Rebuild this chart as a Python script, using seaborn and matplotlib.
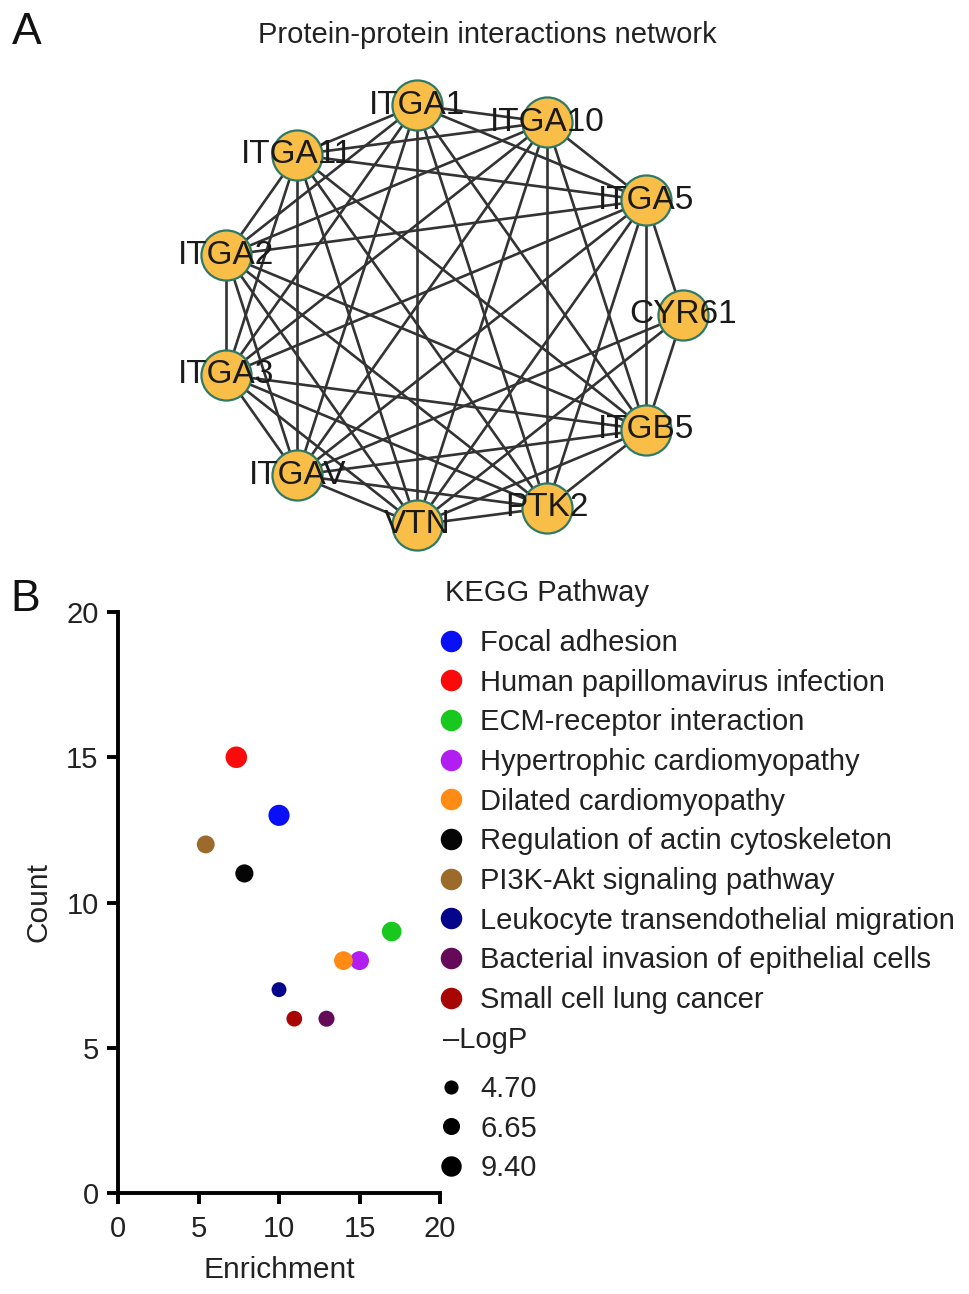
import itertools
import numpy as np
import pandas as pd
import matplotlib
matplotlib.use("Agg")
import matplotlib.pyplot as plt
from matplotlib.lines import Line2D
import seaborn as sns

# Panel A: PPI network, nodes listed counter-clockwise starting at CYR61 (3 o'clock)
proteins = ['CYR61', 'ITGA5', 'ITGA10', 'ITGA1', 'ITGA11', 'ITGA2',
            'ITGA3', 'ITGAV', 'VTN', 'PTK2', 'ITGB5']
core_proteins = ['ITGA5', 'ITGA10', 'ITGA1', 'ITGA11', 'ITGA2',
                 'ITGA3', 'ITGAV', 'VTN', 'PTK2', 'ITGB5']
cyr61_partners = ['ITGA5', 'ITGB5', 'ITGAV', 'VTN']

# Panel B: KEGG enrichment
pathways = ['Focal adhesion', 'Human papillomavirus infection', 'ECM-receptor interaction',
            'Hypertrophic cardiomyopathy', 'Dilated cardiomyopathy',
            'Regulation of actin cytoskeleton', 'PI3K-Akt signaling pathway',
            'Leukocyte transendothelial migration', 'Bacterial invasion of epithelial cells',
            'Small cell lung cancer']
enrichment = [10.0, 7.35, 17.0, 15.0, 14.0, 7.85, 5.45, 10.0, 12.95, 10.95]
count = [13, 15, 9, 8, 8, 11, 12, 7, 6, 6]
neg_logp = [9.1, 9.4, 7.9, 7.4, 7.2, 6.8, 6.6, 4.7, 5.4, 5.2]
pathway_colors = ['#0a10f5', '#fa0a0a', '#18c81e', '#b21ef0', '#ff8a14', '#050505',
                  '#9c6a2a', '#05058c', '#650a58', '#a80505']
logp_legend = [4.70, 6.65, 9.40]

sns.set_theme(style="white")
plt.rcParams['font.family'] = ['Liberation Sans', 'DejaVu Sans']

fig = plt.figure(figsize=(9.69, 12.94), dpi=100)

# ---------------- A ----------------
axa = fig.add_axes([160/969, 1-560/1294, 580/969, 490/1294])
ang = np.deg2rad(np.arange(len(proteins)) * 360.0 / len(proteins))
nodes = pd.DataFrame({'name': proteins, 'x': np.cos(ang), 'y': np.sin(ang)})
pos = nodes.set_index('name')

edges = list(itertools.combinations(core_proteins, 2)) + [('CYR61', p) for p in cyr61_partners]
for a, b in edges:
    axa.plot([pos.loc[a, 'x'], pos.loc[b, 'x']], [pos.loc[a, 'y'], pos.loc[b, 'y']],
             color='#333333', lw=1.9, zorder=1, solid_capstyle='round')

sns.scatterplot(data=nodes, x='x', y='y', ax=axa, s=1300, color='#f8be48',
                edgecolor='#2f7a66', linewidth=1.6, zorder=2, legend=False)
for _, r in nodes.iterrows():
    axa.text(r['x'], r['y'], r['name'], ha='center', va='center', fontsize=24,
             color='#1a1a1a', zorder=3)

axa.set_xlim(-290/233, 290/233)
axa.set_ylim(-245/212, 245/212)
axa.set_axis_off()

fig.text(487/969, 1-35/1294, 'Protein-protein interactions network', ha='center', va='center',
         fontsize=21, color='#222222')
fig.text(12/969, 1-33/1294, 'A', ha='left', va='center', fontsize=32, color='#111111')
fig.text(10/969, 1-600/1294, 'B', ha='left', va='center', fontsize=32, color='#111111')

# ---------------- B ----------------
axb = fig.add_axes([118/969, 1-1193/1294, 322/969, 581/1294])
kegg = pd.DataFrame({'pathway': pathways, 'Enrichment': enrichment,
                     'Count': count, 'logp': neg_logp})
palette = dict(zip(pathways, pathway_colors))
size_range = (115, 240)
sns.scatterplot(data=kegg, x='Enrichment', y='Count', hue='pathway', palette=palette,
                size='logp', sizes=size_range, size_norm=(4.70, 9.40),
                linewidth=0, ax=axb, legend=False, clip_on=False, zorder=3)

axb.set_xlim(0, 20)
axb.set_ylim(0, 20)
axb.set_xticks([0, 5, 10, 15, 20])
axb.set_yticks([0, 5, 10, 15, 20])
sns.despine(ax=axb)
for s in ['left', 'bottom']:
    axb.spines[s].set_linewidth(2.8)
    axb.spines[s].set_color('black')
axb.tick_params(axis='both', direction='out', length=8, width=2.8, color='black',
                labelsize=21, pad=6, labelcolor='#222222', left=True, bottom=True)
axb.tick_params(axis='x', pad=8)
axb.set_xlabel('Enrichment', fontsize=21.5, color='#222222', labelpad=9)
axb.set_ylabel('Count', fontsize=21.5, color='#222222', labelpad=10)


def msize(v):
    s = size_range[0] + (v - 4.70) / (9.40 - 4.70) * (size_range[1] - size_range[0])
    return np.sqrt(s)


fig.text(445/969, 1-593/1294, 'KEGG Pathway', ha='left', va='center', fontsize=21,
         color='#222222')
fig.text(443/969, 1-1040/1294, '\u2013LogP', ha='left', va='center', fontsize=21,
         color='#222222')

h1 = [Line2D([], [], ls='', marker='o', markersize=msize(9.4) * 1.0, color=c,
             markeredgewidth=0) for c in pathway_colors]
leg1 = axb.legend(h1, pathways, loc='upper left',
                  bbox_to_anchor=(438/969, 1-629/1294), bbox_transform=fig.transFigure,
                  frameon=False, fontsize=21,
                  handlelength=0.9, handletextpad=0.55, labelspacing=0.40, borderpad=0,
                  borderaxespad=0, labelcolor='#222222')
axb.add_artist(leg1)

h2 = [Line2D([], [], ls='', marker='o', markersize=msize(v) * 0.95, color='black',
             markeredgewidth=0) for v in logp_legend]
leg2 = axb.legend(h2, ['%.2f' % v for v in logp_legend], loc='upper left',
                  bbox_to_anchor=(438/969, 1-1075/1294), bbox_transform=fig.transFigure,
                  frameon=False, fontsize=21,
                  handlelength=0.9, handletextpad=0.55, labelspacing=0.40, borderpad=0,
                  borderaxespad=0, labelcolor='#222222')

fig.savefig('out.png', dpi=100)
